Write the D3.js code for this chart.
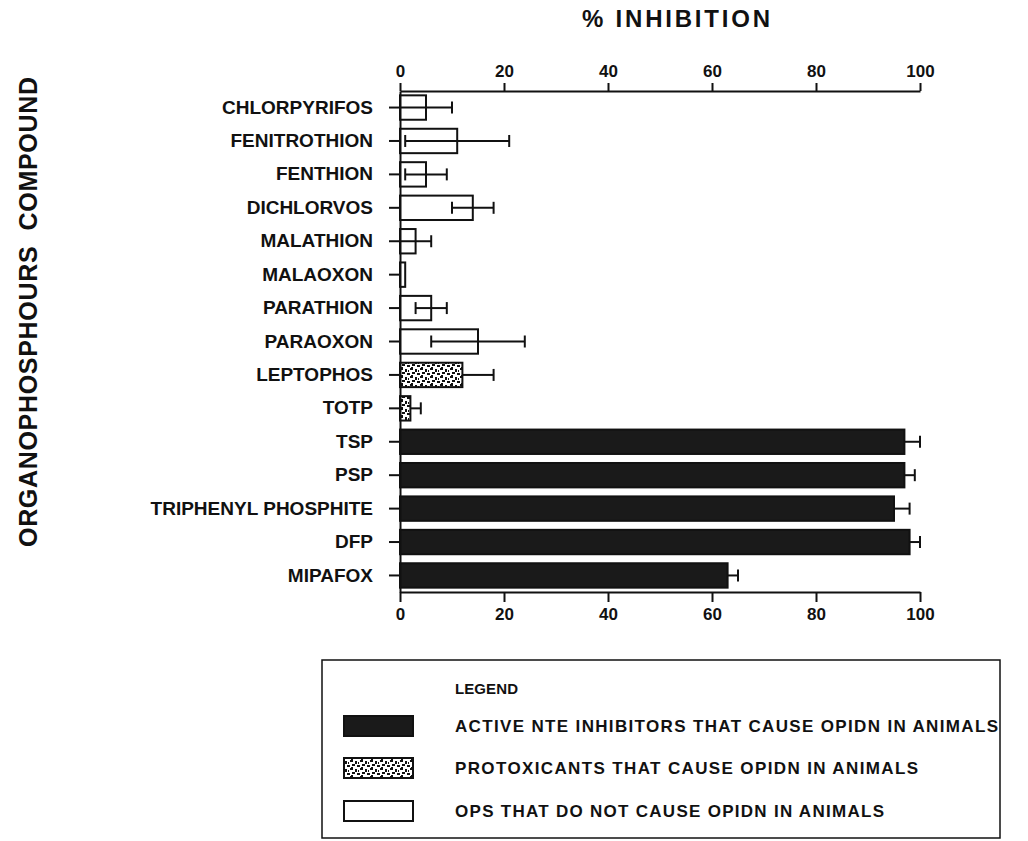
<!DOCTYPE html>
<html>
<head>
  <title>% Inhibition by organophosphorus compound</title>
  <script src="https://d3js.org/d3.v7.min.js"></script>
  <style>
    body { margin: 0; background: #fff; }
    svg { display: block; }
    text { font-family: "Liberation Sans", Arial, sans-serif; font-weight: bold; fill: #111; }
    .axis path, .axis line { stroke: #111; stroke-width: 2; fill: none; }
    .axis text { font-size: 17px; }
    .ylab text { font-size: 19px; }
  </style>
</head>
<body>
  <div id="chart"></div>
  <script>
    // values (% NTE inhibition, mean and error)
    const compounds = ["CHLORPYRIFOS", "FENITROTHION", "FENTHION", "DICHLORVOS", "MALATHION",
      "MALAOXON", "PARATHION", "PARAOXON", "LEPTOPHOS", "TOTP", "TSP", "PSP",
      "TRIPHENYL PHOSPHITE", "DFP", "MIPAFOX"];
    const inhibition = [5, 11, 5, 14, 3, 1, 6, 15, 12, 2, 97, 97, 95, 98, 63];
    const errors = [5, 10, 4, 4, 3, 0, 3, 9, 6, 2, 3, 2, 3, 2, 2];
    const groups = ["open", "open", "open", "open", "open", "open", "open", "open",
      "proto", "proto", "active", "active", "active", "active", "active"];
    const xTicks = [0, 20, 40, 60, 80, 100];
    const legendGroups = ["active", "proto", "open"];
    const legendLabels = ["ACTIVE NTE INHIBITORS THAT CAUSE OPIDN IN ANIMALS",
      "PROTOXICANTS THAT CAUSE OPIDN IN ANIMALS",
      "OPS THAT DO NOT CAUSE OPIDN IN ANIMALS"];

    const W = 1028, H = 841;
    const svg = d3.select("#chart").append("svg").attr("width", W).attr("height", H);

    // stipple pattern for protoxicants
    const pat = svg.append("defs").append("pattern")
      .attr("id", "stipple").attr("patternUnits", "userSpaceOnUse")
      .attr("width", 10).attr("height", 8);
    pat.append("rect").attr("width", 10).attr("height", 8).attr("fill", "#fff");
    [[0, 0, 3, 2], [5, 1, 2, 3], [2, 4, 3, 2], [7, 5, 3, 2], [1, 7, 2, 1], [8, 2, 1, 2]].forEach(d => {
      pat.append("rect").attr("x", d[0]).attr("y", d[1]).attr("width", d[2]).attr("height", d[3]).attr("fill", "#111");
    });
    const fills = {active: "#1a1a1a", proto: "url(#stipple)", open: "#fff"};

    const x = d3.scaleLinear().domain([0, 100]).range([400, 920]);
    const y = d3.scaleBand().domain(compounds).range([91, 592]).paddingInner(0.27).paddingOuter(0.13);

    // bars
    svg.selectAll(".bar").data(compounds).enter().append("rect")
      .attr("class", "bar")
      .attr("x", x(0))
      .attr("y", d => y(d))
      .attr("width", (d, i) => x(inhibition[i]) - x(0))
      .attr("height", y.bandwidth())
      .attr("fill", (d, i) => fills[groups[i]])
      .attr("stroke", "#111").attr("stroke-width", 2);

    // error bars (lower whisker visible only inside open bars)
    const err = svg.append("g").attr("stroke", "#111").attr("stroke-width", 2);
    compounds.forEach((c, i) => {
      if (!errors[i]) return;
      const cy = y(c) + y.bandwidth() / 2;
      const lo = groups[i] === "open" ? Math.max(0, inhibition[i] - errors[i]) : inhibition[i];
      const hi = inhibition[i] + errors[i];
      err.append("line").attr("x1", x(lo)).attr("x2", x(hi)).attr("y1", cy).attr("y2", cy);
      err.append("line").attr("x1", x(hi)).attr("x2", x(hi)).attr("y1", cy - 6).attr("y2", cy + 6);
      if (groups[i] === "open" && lo > 0)
        err.append("line").attr("x1", x(lo)).attr("x2", x(lo)).attr("y1", cy - 6).attr("y2", cy + 6);
    });

    // axes
    svg.append("g").attr("class", "axis").attr("transform", "translate(0,91)")
      .call(d3.axisTop(x).tickValues(xTicks).tickSize(8).tickSizeOuter(0).tickPadding(6));
    svg.append("g").attr("class", "axis").attr("transform", "translate(0,592)")
      .call(d3.axisBottom(x).tickValues(xTicks).tickSize(10).tickSizeOuter(0).tickPadding(6));
    svg.append("g").attr("class", "axis ylab").attr("transform", "translate(400,0)")
      .call(d3.axisLeft(y).tickSize(11).tickSizeOuter(0).tickPadding(16));

    // titles
    svg.append("text").attr("x", 676).attr("y", 27).attr("text-anchor", "middle")
      .style("font-size", "24px").style("white-space", "pre")
      .attr("textLength", 188).attr("lengthAdjust", "spacing")
      .text("% INHIBITION");
    svg.append("text").attr("transform", "translate(37,312) rotate(-90)")
      .attr("text-anchor", "middle").style("font-size", "25px").style("white-space", "pre")
      .attr("textLength", 470).attr("lengthAdjust", "spacing")
      .text("ORGANOPHOSPHOURS  COMPOUND");

    // legend
    const lg = svg.append("g");
    lg.append("rect").attr("x", 322).attr("y", 660).attr("width", 678).attr("height", 178)
      .attr("fill", "none").attr("stroke", "#111").attr("stroke-width", 1.5);
    lg.append("text").attr("x", 455).attr("y", 694).style("font-size", "15px")
      .attr("textLength", 63).attr("lengthAdjust", "spacing").text("LEGEND");
    const rowY = [726, 768, 811];
    const textLen = [543, 463, 429];
    legendGroups.forEach((g, i) => {
      lg.append("rect").attr("x", 344).attr("y", rowY[i] - 10).attr("width", 69).attr("height", 20)
        .attr("fill", fills[g]).attr("stroke", "#111").attr("stroke-width", 2);
      lg.append("text").attr("x", 455).attr("y", rowY[i] + 6).style("font-size", "17px")
        .attr("textLength", textLen[i]).attr("lengthAdjust", "spacing")
        .text(legendLabels[i]);
    });
  </script>
</body>
</html>
